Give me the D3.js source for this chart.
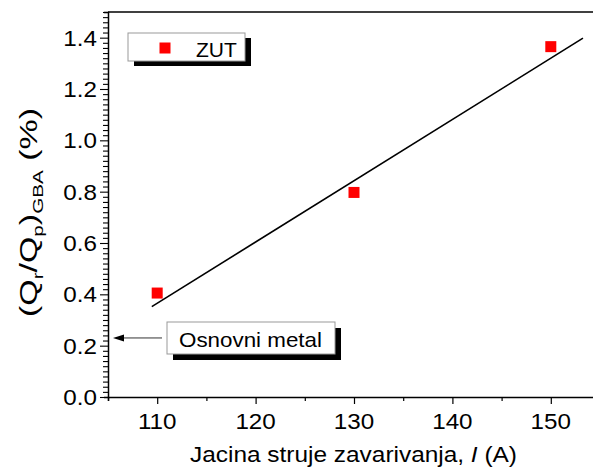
<!DOCTYPE html>
<html><head><meta charset="utf-8">
<script src="https://cdn.jsdelivr.net/npm/d3@7"></script>
<style>body{margin:0;background:#fff}svg{display:block}text{font-family:"Liberation Sans",Arial,sans-serif}</style>
</head><body>
<svg id="c" width="593" height="468"></svg>
<script>
// Data
const currents = [110, 130, 150];
const ratios = [0.405, 0.797, 1.365];
const fitX = [109.45, 153.27];
const fitY = [0.352, 1.398];
const xTicks = [110, 120, 130, 140, 150];
const yTicks = [0.0, 0.2, 0.4, 0.6, 0.8, 1.0, 1.2, 1.4];
const seriesName = "ZUT";
const baseLabel = "Osnovni metal";
const baseValue = 0.23;

const svg = d3.select("#c");
const x = d3.scaleLinear().domain([105, 155]).range([108, 600]);
const y = d3.scaleLinear().domain([0, 1.5]).range([397, 12]);

// frame
svg.append("line").attr("x1",108).attr("x2",600).attr("y1",12).attr("y2",12).attr("stroke","#000").attr("stroke-width",1.5);

// x axis
const xa = svg.append("g").attr("transform","translate(0,397)")
  .call(d3.axisBottom(x).tickValues(d3.range(105,156,5)).tickSize(4).tickFormat(""));
xa.select(".domain").attr("stroke-width",1.5);
xa.selectAll(".tick line").attr("stroke-width",1.2).attr("y2", d => xTicks.includes(d) ? 7 : 4);
svg.append("g").selectAll("text").data(xTicks).join("text")
  .attr("transform", d => `translate(${x(d)},429) scale(1.1,1)`).attr("text-anchor","middle")
  .attr("font-size", 22).text(d => d);

// y axis
const ya = svg.append("g").attr("transform","translate(108,0)")
  .call(d3.axisLeft(y).tickValues(d3.range(0,76).map(i => i*0.02)).tickSize(4).tickFormat(""));
ya.select(".domain").attr("stroke-width",1.5);
ya.selectAll(".tick line").attr("stroke-width",1.1)
  .attr("x2", (d,i) => i % 10 === 0 ? -8 : -5);
svg.append("g").selectAll("text").data(yTicks).join("text")
  .attr("transform", d => `translate(97,${y(d) + 8}) scale(1.1,1)`).attr("text-anchor","end")
  .attr("font-size", 22).text(d => d.toFixed(1));

// fit line
svg.append("path")
  .attr("d", d3.line().x(d => x(d[0])).y(d => y(d[1]))(fitX.map((v,i) => [v, fitY[i]])))
  .attr("stroke","#000").attr("stroke-width",1.6).attr("fill","none");

// points
svg.append("g").selectAll("rect").data(currents).join("rect")
  .attr("x", (d,i) => x(d) - 5.5).attr("y", (d,i) => y(ratios[i]) - 5.5)
  .attr("width", 11).attr("height", 11).attr("fill", "#ff0000");

// legend
const lg = svg.append("g");
lg.append("rect").attr("x",134).attr("y",38).attr("width",117).attr("height",28).attr("fill","#000");
lg.append("rect").attr("x",128).attr("y",33).attr("width",117).attr("height",28).attr("fill","#fff").attr("stroke","#999").attr("stroke-width",1);
lg.append("rect").attr("x",159.5).attr("y",42.5).attr("width",11).attr("height",11).attr("fill","#ff0000");
lg.append("text").attr("x",196).attr("y",57).attr("font-size",21).text(seriesName);

// annotation
const an = svg.append("g");
an.append("line").attr("x1",162).attr("x2",120).attr("y1",y(baseValue)).attr("y2",y(baseValue)).attr("stroke","#333").attr("stroke-width",1);
an.append("path").attr("d", `M113,${y(baseValue)} L124,${y(baseValue)-3.5} L124,${y(baseValue)+3.5} Z`).attr("fill","#000");
an.append("rect").attr("x",173).attr("y",328).attr("width",168).attr("height",32).attr("fill","#000");
an.append("rect").attr("x",167).attr("y",322).attr("width",168).attr("height",32).attr("fill","#fff").attr("stroke","#999").attr("stroke-width",1);
an.append("text").attr("x",179).attr("y",347).attr("font-size",21)
  .attr("textLength",143).attr("lengthAdjust","spacingAndGlyphs").text(baseLabel);

// x label
const xt = svg.append("text").attr("x",190).attr("y",462).attr("font-size",22)
  .attr("textLength",327).attr("lengthAdjust","spacingAndGlyphs");
xt.append("tspan").text("Jacina struje zavarivanja, ");
xt.append("tspan").attr("font-style","italic").text("I");
xt.append("tspan").text(" (A)");

// y label
const yt = svg.append("text").attr("transform","translate(37,317) rotate(-90)")
  .attr("x",0).attr("y",0).attr("font-size",23)
  .attr("textLength",209).attr("lengthAdjust","spacingAndGlyphs");
yt.append("tspan").text("(Q");
yt.append("tspan").attr("font-size",14).attr("dy",6).text("r");
yt.append("tspan").attr("dy",-6).text("/Q");
yt.append("tspan").attr("font-size",14).attr("dy",6).text("p");
yt.append("tspan").attr("dy",-6).text(")");
yt.append("tspan").attr("font-size",14).attr("dy",6).text("GBA");
yt.append("tspan").attr("dy",-6).text(" (%)");
</script>
</body></html>
